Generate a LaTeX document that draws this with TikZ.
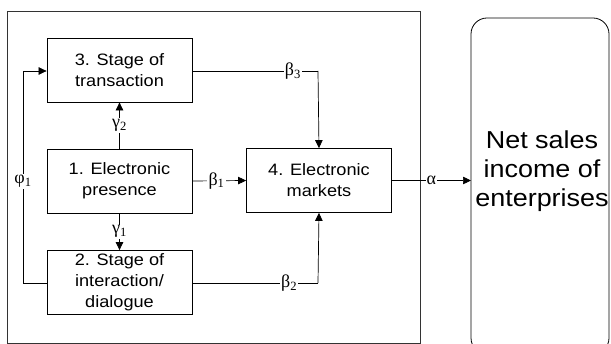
\documentclass[tikz,border=0pt]{standalone}
\usepackage{fontspec}
\setmainfont{Liberation Sans}[FakeStretch=1.1]
\newfontfamily\grk{Liberation Serif}
\usetikzlibrary{arrows.meta}
\begin{document}
\begin{tikzpicture}[x=1pt,y=-1pt,
  stagebox/.style={draw=black,line width=0.8pt,minimum width=145pt,minimum height=64pt,align=center,inner sep=2pt,font=\fontsize{16.5}{21}\selectfont},
  conn/.style={line width=0.7pt},
  arr/.style={conn,-{Triangle[length=8pt,width=7.5pt]}},
  coef/.style={fill=white,inner sep=1.2pt,font=\grk\fontsize{18}{20}\selectfont}]
\useasboundingbox (0,0) rectangle (611,344);
\begin{scope}
\clip (0,0) rectangle (611,344);
\draw[line width=0.8pt,draw=black!80] (7,11) rectangle (420,343);
\draw[line width=0.8pt,rounded corners=16pt] (471,18) rectangle (609,354);
\end{scope}
\node[stagebox] (s3) at (119.5,70) {3. Stage of\\transaction};
\node[stagebox] (s1) at (119.5,181) {1. Electronic\\presence};
\node[stagebox] (s2) at (119.5,282.5) {2. Stage of\\interaction/\\dialogue};
\node[stagebox] (s4) at (319,180.5) {4. Electronic\\markets};
\node[align=center,font=\fontsize{24.5}{29}\selectfont] (net) at (542,171) {Net sales\\income of\\enterprises};
\coordinate (rb) at (471,180.5);
\coordinate (p1a) at (23,283);
\coordinate (p1b) at (23,71);
\coordinate (b3c) at (318,71);
\coordinate (b2c) at (318,283);
% phi1
\draw[arr] (s2.west |- p1a) -- (p1a) -- node[coef,pos=0.48] {φ\textsubscript{1}} (p1b) -- (s3.west |- p1b);
% gamma
\draw[arr] (s1.north) -- node[coef] {γ\textsubscript{2}} (s3.south);
\draw[arr] (s1.south) -- node[coef] {γ\textsubscript{1}} (s2.north);
% betas
\draw[conn] (s3.east |- b3c) -- node[coef,pos=0.8] {β\textsubscript{3}} (b3c);
\draw[arr] (b3c) -- (s4.north);
\draw[arr] (s1.east) -- node[coef,pos=0.45] {β\textsubscript{1}} (s4.west);
\draw[conn] (s2.east |- b2c) -- node[coef,pos=0.77] {β\textsubscript{2}} (b2c);
\draw[arr] (b2c) -- (s4.south);
% alpha
\draw[arr] (s4.east) -- node[coef,pos=0.5] {α} (rb);
\end{tikzpicture}
\end{document}
